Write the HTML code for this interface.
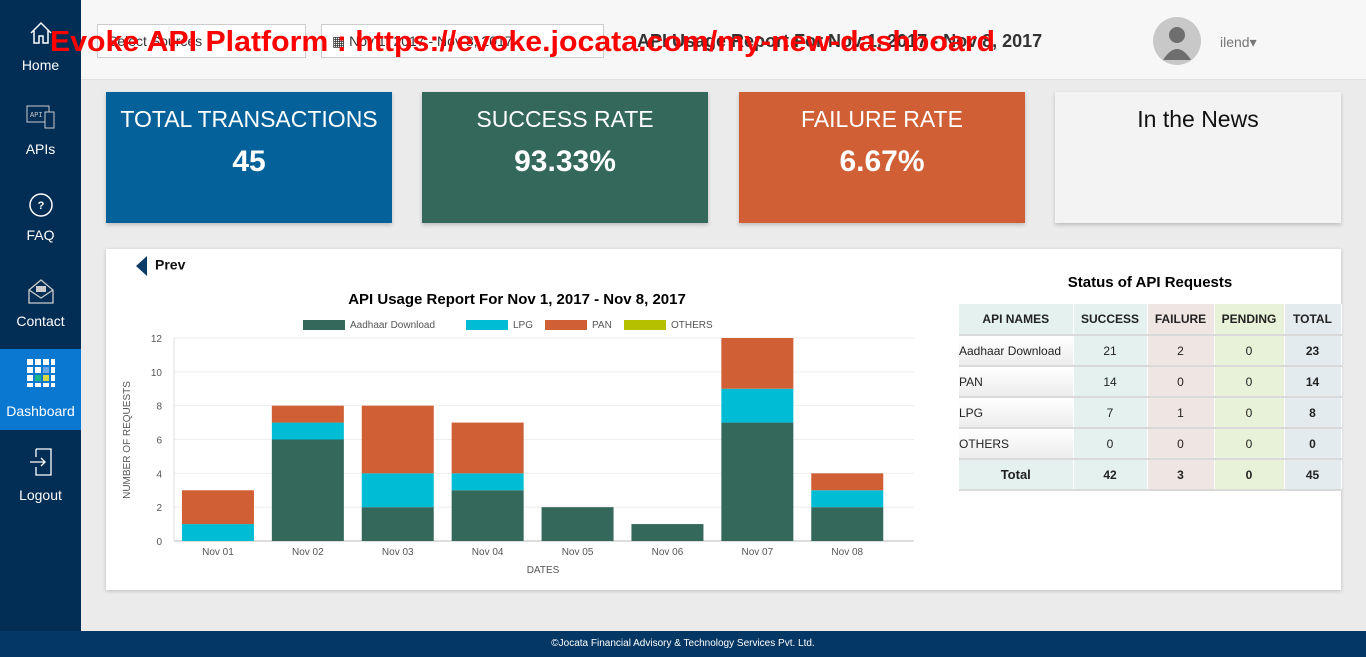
<!DOCTYPE html>
<html><head><meta charset="utf-8"><style>
*{box-sizing:border-box;margin:0;padding:0}
body{width:1366px;height:657px;overflow:hidden;background:#ebebeb;font-family:"Liberation Sans",sans-serif;position:relative}
.abs{position:absolute}
#side{left:0;top:0;width:81px;height:631px;background:#022d54}
.nav{position:absolute;left:0;width:81px;color:#fff;font-size:14px;text-align:center}
#hdr{left:81px;top:0;width:1285px;height:80px;background:#f7f7f7;border-bottom:1px solid #e0e0e0}
.sel{position:absolute;top:24px;height:34px;border:1px solid #ccc;background:#fff;font-size:14px;color:#333;padding:8px 10px}
.card{position:absolute;top:92px;height:131px;color:#fff;text-align:center;box-shadow:0 2px 4px rgba(0,0,0,.2)}
.card .t{font-size:23px;margin-top:14px}
.card .v{font-size:30px;font-weight:bold;margin-top:12px}
#panel{left:106px;top:249px;width:1235px;height:341px;background:#fff;box-shadow:0 1px 4px rgba(0,0,0,.2)}
table{position:absolute;left:959px;top:304px;border-collapse:collapse;font-size:12px;color:#222}
td,th{height:31px;text-align:center;border-bottom:2px solid #d9d9d9;border-right:1px solid #fff}
th{font-size:12px;font-weight:bold}
.c1{background:#e4f1ef}.c2{background:#efe5e2}.c3{background:#e8f2d9}.c4{background:#e3ebee}
.n{text-align:left;background:linear-gradient(#fff,#ececec)}
#foot{left:0;top:631px;width:1366px;height:26px;background:#053764;color:#fff;font-size:10px;text-align:center;line-height:26px}
</style></head><body>
<div id="side" class="abs">
 <div class="nav" style="top:20px"><svg width="26" height="26" viewBox="0 0 26 26"><path d="M3 13 L13 3 L23 13 M6 10 V23 H11 V16 H15 V23 H20 V10" fill="none" stroke="#fff" stroke-width="1.5"/></svg><div style="margin-top:8px">Home</div></div>
 <div class="nav" style="top:104px"><svg width="32" height="26"><rect x="2" y="2" width="22" height="16" fill="none" stroke="#ccc"/><rect x="20" y="8" width="9" height="16" fill="#022d54" stroke="#ccc"/><text x="5" y="13" font-size="7" fill="#ccc" font-family="Liberation Mono">API</text></svg><div style="margin-top:8px">APIs</div></div>
 <div class="nav" style="top:192px"><svg width="26" height="26"><circle cx="13" cy="13" r="11" fill="none" stroke="#fff" stroke-width="1.5"/><text x="13" y="17" font-size="11" fill="#fff" text-anchor="middle" font-weight="bold">?</text></svg><div style="margin-top:6px">FAQ</div></div>
 <div class="nav" style="top:278px"><svg width="30" height="26"><path d="M3 12 L15 2 L27 12 V25 H3 Z M3 12 L15 20 L27 12" fill="none" stroke="#ccc" stroke-width="1.3"/><rect x="10" y="8" width="10" height="6" fill="#ccc"/></svg><div style="margin-top:6px">Contact</div></div>
 <div class="nav" style="top:349px;height:81px;background:#0a77d1;padding-top:9px"><svg width="30" height="30"><g fill="#fff"><rect x="1" y="1" width="6" height="6"/><rect x="9" y="1" width="6" height="6"/><rect x="17" y="1" width="6" height="6"/><rect x="25" y="1" width="4" height="6"/><rect x="1" y="9" width="6" height="6"/><rect x="9" y="9" width="6" height="6"/><rect x="17" y="9" width="6" height="6" fill="#6aa9e6"/><rect x="25" y="9" width="4" height="6"/><rect x="1" y="17" width="6" height="6"/><rect x="9" y="17" width="6" height="6" fill="#1bb38a"/><rect x="17" y="17" width="6" height="6" fill="#d5d843"/><rect x="25" y="17" width="4" height="6"/><rect x="1" y="25" width="6" height="4"/><rect x="9" y="25" width="6" height="4"/><rect x="17" y="25" width="6" height="4"/><rect x="25" y="25" width="4" height="4"/></g></svg><div style="margin-top:12px">Dashboard</div></div>
 <div class="nav" style="top:447px"><svg width="26" height="30"><path d="M8 2 H23 V28 H8 V20 M8 10 V2 M2 15 H17 M13 11 L17 15 L13 19" fill="none" stroke="#fff" stroke-width="1.3"/></svg><div style="margin-top:7px">Logout</div></div>
</div>
<div id="hdr" class="abs"></div>
<div class="sel" style="left:97px;width:209px">Select Sources</div>
<div class="sel" style="left:321px;width:283px">▦ Nov 1, 2017 - Nov 8, 2017</div>
<div class="abs" style="left:637px;top:31px;font-size:18px;font-weight:bold;color:#333">API Usage Report For Nov 1, 2017 - Nov 8, 2017</div>
<svg class="abs" style="left:40px;top:18px" width="980" height="44"><text x="10" y="33" font-size="29" font-weight="bold" fill="#f00" textLength="945" lengthAdjust="spacingAndGlyphs" font-family="Liberation Sans">Evoke API Platform : https://evoke.jocata.com/my-new-dashboard</text></svg>
<svg class="abs" style="left:1152px;top:16px" width="50" height="50"><circle cx="25" cy="25" r="24" fill="#c8c8c8"/><circle cx="25" cy="19" r="8" fill="#6e6e6e"/><path d="M11 44 Q25 22 39 44 Z" fill="#6e6e6e"/></svg>
<div class="abs" style="left:1220px;top:34px;font-size:14px;color:#777">ilend▾</div>

<div class="card" style="left:106px;width:286px;background:#04619a"><div class="t">TOTAL TRANSACTIONS</div><div class="v">45</div></div>
<div class="card" style="left:422px;width:286px;background:#33685b"><div class="t">SUCCESS RATE</div><div class="v">93.33%</div></div>
<div class="card" style="left:739px;width:286px;background:#d15f35"><div class="t">FAILURE RATE</div><div class="v">6.67%</div></div>
<div class="card" style="left:1055px;width:286px;background:#f3f3f3;color:#111"><div class="t">In the News</div></div>

<div id="panel" class="abs"></div>
<div class="abs" style="left:136px;top:256px;font-size:14px;font-weight:bold;color:#111"><span style="display:inline-block;width:0;height:0;border-top:10px solid transparent;border-bottom:10px solid transparent;border-right:11px solid #0b3a66;vertical-align:middle;margin-right:8px"></span>Prev</div>

<svg class="abs" style="left:0;top:0" width="1366" height="657" id="chart">
<text x="517" y="304" font-size="15" font-weight="bold" text-anchor="middle" fill="#000">API Usage Report For Nov 1, 2017 - Nov 8, 2017</text>
<g id="legend"></g><g id="grid"></g><g id="bars"></g>
<text x="543" y="573" font-size="10" fill="#555" text-anchor="middle">DATES</text>
<text transform="translate(130,440) rotate(-90)" font-size="10" fill="#555" text-anchor="middle">NUMBER OF REQUESTS</text>
</svg>

<div class="abs" style="left:959px;top:274px;width:382px;text-align:center;font-size:15px;font-weight:bold">Status of API Requests</div>
<table>
<tr><th class="c1" style="width:114px">API NAMES</th><th class="c1" style="width:74px">SUCCESS</th><th class="c2" style="width:67px">FAILURE</th><th class="c3" style="width:70px">PENDING</th><th class="c4" style="width:57px">TOTAL</th></tr>
<tr><td class="n">Aadhaar Download</td><td class="c1">21</td><td class="c2">2</td><td class="c3">0</td><td class="c4"><b>23</b></td></tr>
<tr><td class="n">PAN</td><td class="c1">14</td><td class="c2">0</td><td class="c3">0</td><td class="c4"><b>14</b></td></tr>
<tr><td class="n">LPG</td><td class="c1">7</td><td class="c2">1</td><td class="c3">0</td><td class="c4"><b>8</b></td></tr>
<tr><td class="n">OTHERS</td><td class="c1">0</td><td class="c2">0</td><td class="c3">0</td><td class="c4"><b>0</b></td></tr>
<tr><td class="c1" style="font-size:13px"><b>Total</b></td><td class="c1"><b>42</b></td><td class="c2"><b>3</b></td><td class="c3"><b>0</b></td><td class="c4"><b>45</b></td></tr>
</table>
<div id="foot" class="abs">©Jocata Financial Advisory &amp; Technology Services Pvt. Ltd.</div>
<script>
const categories=["Nov 01","Nov 02","Nov 03","Nov 04","Nov 05","Nov 06","Nov 07","Nov 08"];
const aadhaar=[0,6,2,3,2,1,7,2];
const lpg=[1,1,2,1,0,0,2,1];
const pan=[2,1,4,3,0,0,3,1];
const others=[0,0,0,0,0,0,0,0];
const yTicks=[0,2,4,6,8,10,12];
const seriesNames=["Aadhaar Download","LPG","PAN","OTHERS"];
const NS="http://www.w3.org/2000/svg";
const X0=174,X1=914,Y0=541,YMAX=12,Y12=338;
const yS=v=>Y0-(Y0-Y12)*v/YMAX;
const bw=89.9;
const xS=i=>173+bw*i;
function mk(t,a,p){const e=document.createElementNS(NS,t);for(const k in a)e.setAttribute(k,a[k]);p.appendChild(e);return e;}
const grid=document.getElementById('grid'),bars=document.getElementById('bars'),leg=document.getElementById('legend');
yTicks.forEach(v=>{
 const l=mk('line',{x1:X0,x2:X1,y1:yS(v),y2:yS(v),stroke:v===0?'#bbb':'#eee'},grid);
 
 
 const t=mk('text',{x:X0-12,y:yS(v)+4,'font-size':10,fill:'#555','text-anchor':'end'},grid);t.textContent=v;
 
 
});
mk('line',{x1:X0,x2:X0,y1:Y12,y2:Y0,stroke:'#ddd'},grid);
const series=[aadhaar,lpg,pan,others],colors=["#33685b","#00bcd4","#d15f35","#b5c000"];
categories.forEach((c,i)=>{
 let base=0;const x=xS(i)+(bw-72)/2;
 series.forEach((s,k)=>{
  if(s[i]>0){const r=mk('rect',{x:x,width:72,y:yS(base+s[i]),height:yS(base)-yS(base+s[i]),fill:colors[k]},bars);
  
  }
  base+=s[i];
 });
 const t=mk('text',{x:xS(i)+bw/2,y:555,'font-size':10,fill:'#555','text-anchor':'middle'},bars);t.textContent=c;
 
 
});
const lx=[303,466,545,624];
seriesNames.forEach((n,k)=>{
 const g=mk('g',{},leg);
 
 
 mk('rect',{x:lx[k],y:320,width:42,height:10,fill:colors[k]},g);
 const t=mk('text',{x:lx[k]+47,y:328,'font-size':10,fill:'#555'},g);t.textContent=n;
});
</script>
</body></html>
